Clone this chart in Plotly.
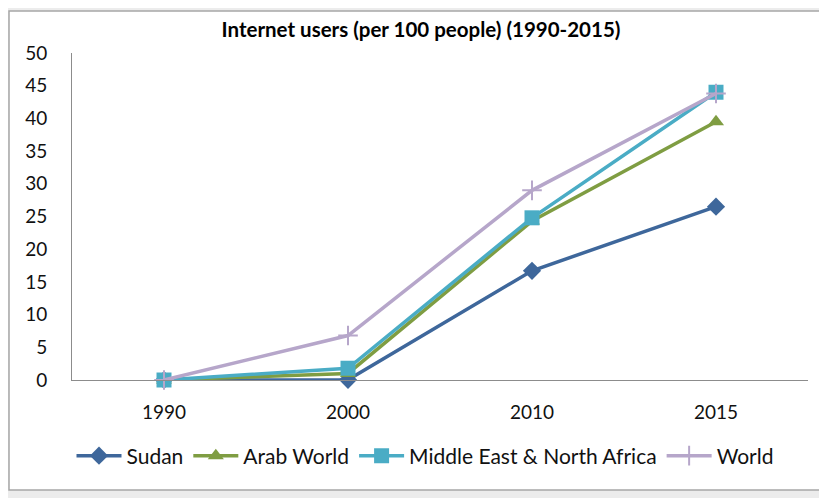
import plotly.graph_objects as go

years = ['1990', '2000', '2010', '2015']
sudan = [0.0, 0.03, 16.7, 26.5]
arab_world = [0.0, 1.0, 24.3, 39.5]
mena = [0.0, 1.8, 24.8, 44.0]
world = [0.0, 6.8, 29.0, 43.8]
y_ticks = [0, 5, 10, 15, 20, 25, 30, 35, 40, 45, 50]

font = 'Lato, Open Sans, sans-serif'

# page has an 8px body margin, so figure is 819x490 and sits at (8, 8)
W, H = 819, 490
OFF = 8
# plot area in page pixels: left 72, right 808, top 53, bottom 380
L, R, T, B = 72 - OFF, 808 - OFF, 53 - OFF, 380 - OFF
def px(x):
    return (x - OFF - L) / (R - L)
def py(y):
    return (B - (y - OFF)) / (B - T)

fig = go.Figure()

series = [
    ('Sudan', sudan, '#3E679B', 'diamond', 14),
    ('Arab World', arab_world, '#7F9D42', 'triangle-up', 14),
    ('Middle East & North Africa', mena, '#4AACC5', 'square', 15),
    ('World', world, '#B6A6CA', 'cross-thin', 14),
]
for name, vals, color, symbol, size in series:
    fig.add_trace(go.Scatter(
        x=years, y=vals, mode='lines+markers', name=name, cliponaxis=False,
        line=dict(color=color, width=3.5),
        marker=dict(symbol=symbol, size=size, color=color,
                    line=dict(color=color, width=2 if symbol == 'cross-thin' else 0)),
    ))

# excel frame around the chart
fig.add_shape(type='rect', xref='paper', yref='paper', layer='below',
              x0=px(9), x1=px(840), y0=py(490), y1=py(11),
              fillcolor='white', line=dict(color='#a6a6a6', width=1.5))

fig.update_layout(
    width=W, height=H,
    margin=dict(l=L, r=W - R, t=T, b=H - B),
    paper_bgcolor='#ececec',
    plot_bgcolor='rgba(0,0,0,0)',
    font=dict(family=font, size=19, color='#111111'),
    title=dict(text='<b>Internet users (per 100 people) (1990-2015)</b>',
               xref='paper', x=px(421), xanchor='center',
               y=1 - (30 - OFF) / H, yanchor='middle',
               font=dict(size=20.5, color='#000000')),
    showlegend=True,
    legend=dict(orientation='h', x=px(425), xanchor='center', y=py(456), yanchor='middle',
                font=dict(size=21), itemwidth=45, traceorder='normal',
                bgcolor='rgba(0,0,0,0)'),
    xaxis=dict(type='category', range=[-0.5, 3.5], showgrid=False,
               showline=True, linecolor='#8c8c8c', linewidth=1,
               ticks='', ticklabelstandoff=15, tickfont=dict(size=19)),
    yaxis=dict(range=[0, 50], tickvals=y_ticks, showgrid=False, zeroline=False,
               showline=True, linecolor='#8c8c8c', linewidth=1,
               ticks='', ticklabelstandoff=20, tickfont=dict(size=19)),
)

fig.write_html('out.html')
